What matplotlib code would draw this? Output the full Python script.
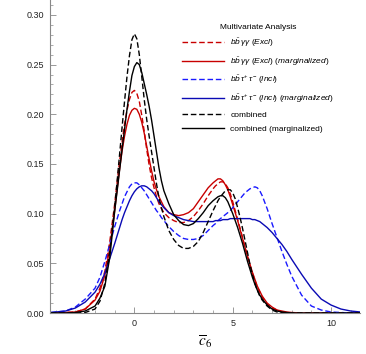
import matplotlib
matplotlib.use('Agg')
import matplotlib.pyplot as plt
from matplotlib.ticker import MultipleLocator

plt.rcParams['font.family'] = ['Liberation Sans', 'DejaVu Sans']
plt.rcParams['mathtext.fontset'] = 'custom'
plt.rcParams['mathtext.rm'] = 'Liberation Sans'
plt.rcParams['mathtext.it'] = 'Liberation Sans:italic'

# values (finer steps near the peaks)
x = [-4.25, -3.5, -3.0, -2.5, -2.0, -1.75, -1.5, -1.25,
     -1.0, -0.875, -0.75, -0.625, -0.5, -0.375, -0.25, -0.125, 0.0, 0.125, 0.25,
     0.375, 0.5, 0.625, 0.75, 0.875, 1.0, 1.125, 1.25, 1.375, 1.5,
     1.75, 2.0, 2.25, 2.5, 2.75, 3.0, 3.25, 3.5, 3.75,
     4.0, 4.125, 4.25, 4.375, 4.5, 4.625, 4.75, 4.875, 5.0, 5.125, 5.25,
     5.375, 5.5, 5.625, 5.75, 5.875, 6.0, 6.125, 6.25, 6.375, 6.5,
     6.75, 7.0, 7.25, 7.5, 7.75, 8.0, 8.5, 9.0, 9.5, 10.0, 10.5, 11.0, 11.5]

bbaa = [0, 0.0005, 0.001, 0.004, 0.014, 0.025, 0.042, 0.072,
        0.110, 0.132, 0.153, 0.172, 0.190, 0.204, 0.215, 0.222, 0.224, 0.221, 0.213,
        0.199, 0.183, 0.165, 0.149, 0.136, 0.126, 0.117, 0.110, 0.105, 0.101,
        0.096, 0.093, 0.091, 0.091, 0.093, 0.097, 0.103, 0.110, 0.118,
        0.125, 0.128, 0.130, 0.132, 0.132, 0.130, 0.126, 0.120, 0.112, 0.103, 0.094,
        0.085, 0.076, 0.066, 0.057, 0.048, 0.040, 0.033, 0.026, 0.021, 0.016,
        0.009, 0.005, 0.003, 0.001, 0.0005, 0, 0, 0, 0, 0, 0, 0, 0]
bbaa_marg = [0, 0.0005, 0.001, 0.004, 0.013, 0.022, 0.038, 0.065,
             0.103, 0.125, 0.145, 0.163, 0.178, 0.190, 0.199, 0.204, 0.206, 0.205, 0.200,
             0.192, 0.181, 0.168, 0.155, 0.143, 0.132, 0.124, 0.117, 0.112, 0.107,
             0.101, 0.099, 0.098, 0.099, 0.101, 0.105, 0.112, 0.119, 0.126,
             0.131, 0.133, 0.135, 0.135, 0.133, 0.129, 0.124, 0.117, 0.109, 0.101, 0.093,
             0.084, 0.075, 0.066, 0.057, 0.049, 0.041, 0.034, 0.027, 0.022, 0.017,
             0.010, 0.006, 0.003, 0.002, 0.001, 0.0005, 0, 0, 0, 0, 0, 0, 0]
bbtt = [0.0005, 0.002, 0.006, 0.014, 0.025, 0.036, 0.052, 0.069,
        0.087, 0.095, 0.103, 0.110, 0.117, 0.122, 0.127, 0.130, 0.131, 0.131, 0.129,
        0.126, 0.123, 0.119, 0.115, 0.111, 0.107, 0.103, 0.100, 0.096, 0.093,
        0.087, 0.082, 0.078, 0.075, 0.074, 0.074, 0.075, 0.078, 0.083,
        0.088, 0.090, 0.093, 0.095, 0.097, 0.099, 0.101, 0.103, 0.106, 0.109, 0.112,
        0.115, 0.118, 0.121, 0.123, 0.125, 0.126, 0.127, 0.126, 0.123, 0.118,
        0.105, 0.090, 0.076, 0.062, 0.049, 0.037, 0.018, 0.007, 0.003, 0.001, 0.0005, 0, 0]
bbtt_marg = [0.0005, 0.002, 0.005, 0.011, 0.021, 0.029, 0.040, 0.055,
             0.070, 0.078, 0.086, 0.094, 0.101, 0.107, 0.113, 0.118, 0.122, 0.125, 0.127,
             0.128, 0.128, 0.127, 0.125, 0.123, 0.120, 0.116, 0.112, 0.109, 0.106,
             0.101, 0.098, 0.096, 0.094, 0.093, 0.092, 0.092, 0.092, 0.092,
             0.092, 0.093, 0.093, 0.093, 0.094, 0.094, 0.094, 0.095, 0.095, 0.095, 0.095,
             0.095, 0.095, 0.095, 0.095, 0.095, 0.094, 0.094, 0.093, 0.092, 0.090,
             0.086, 0.081, 0.075, 0.069, 0.062, 0.054, 0.039, 0.025, 0.014, 0.008, 0.004, 0.002, 0.001]
comb = [0, 0, 0, 0.0005, 0.004, 0.012, 0.030, 0.062,
        0.107, 0.133, 0.160, 0.187, 0.213, 0.238, 0.259, 0.275, 0.281, 0.276, 0.260,
        0.238, 0.215, 0.195, 0.178, 0.162, 0.146, 0.130, 0.116, 0.106, 0.097,
        0.083, 0.074, 0.068, 0.065, 0.065, 0.067, 0.072, 0.081, 0.092,
        0.103, 0.108, 0.113, 0.117, 0.120, 0.123, 0.124, 0.124, 0.121, 0.115, 0.106,
        0.096, 0.085, 0.073, 0.061, 0.049, 0.039, 0.030, 0.023, 0.017, 0.013,
        0.007, 0.003, 0.001, 0.0005, 0, 0, 0, 0, 0, 0, 0, 0, 0]
comb_marg = [0, 0, 0.0005, 0.002, 0.007, 0.015, 0.027, 0.056,
             0.103, 0.123, 0.144, 0.165, 0.185, 0.205, 0.223, 0.239, 0.248, 0.252, 0.250,
             0.242, 0.231, 0.220, 0.208, 0.194, 0.178, 0.162, 0.146, 0.133, 0.123,
             0.110, 0.099, 0.093, 0.089, 0.088, 0.090, 0.095, 0.101, 0.108,
             0.113, 0.115, 0.117, 0.118, 0.118, 0.116, 0.112, 0.106, 0.100, 0.093, 0.086,
             0.078, 0.070, 0.061, 0.052, 0.044, 0.036, 0.029, 0.023, 0.018, 0.014,
             0.008, 0.004, 0.002, 0.001, 0.0005, 0, 0, 0, 0, 0, 0, 0, 0]

red = '#c80000'
blue = '#1a1aff'
dblue = '#0a0ab4'

fig = plt.figure(figsize=(3.66, 3.54), dpi=100)
ax = fig.add_axes([0.1366, 0.1158, 0.847, 0.8842])

lw = 1.0
dash = (0, (4, 2))
ax.plot(x, bbaa, color=red, ls=dash, lw=lw, label=r'$b\bar{b}\,\gamma\gamma$ $(Excl)$')
ax.plot(x, bbaa_marg, color=red, lw=lw, label=r'$b\bar{b}\,\gamma\gamma$ $(Excl)$ $(marginalized)$')
ax.plot(x, bbtt, color=blue, ls=dash, lw=lw, label=r'$b\bar{b}\,\tau^{+}\,\tau^{-}$ $(Incl)$')
ax.plot(x, bbtt_marg, color=dblue, lw=lw, label=r'$b\bar{b}\,\tau^{+}\,\tau^{-}$ $(Incl)$ $(marginalized)$')
ax.plot(x, comb, color='black', ls=dash, lw=lw, label='combined')
ax.plot(x, comb_marg, color='black', lw=lw, label='combined (marginalized)')

ax.set_xlim(-4.29, 11.47)
ax.set_ylim(0, 0.315)

for s in ['top', 'right']:
    ax.spines[s].set_visible(False)
for s in ['left', 'bottom']:
    ax.spines[s].set_color('#888888')
    ax.spines[s].set_linewidth(0.8)

ax.xaxis.set_major_locator(MultipleLocator(5))
ax.xaxis.set_minor_locator(MultipleLocator(1))
ax.yaxis.set_major_locator(MultipleLocator(0.05))
ax.yaxis.set_minor_locator(MultipleLocator(0.01))
ax.yaxis.set_major_formatter(plt.FormatStrFormatter('%.2f'))
ax.tick_params(which='both', direction='in', color='#888888', labelsize=6.5, labelcolor='#222222')
ax.tick_params(which='major', length=4, width=0.6, pad=4)
ax.tick_params(which='minor', length=2, width=0.5)

ax.set_xlabel(r'$\overline{c}_6$', fontsize=11, math_fontfamily='stix', labelpad=4)

leg = ax.legend(loc='upper left', bbox_to_anchor=(0.412, 0.937), frameon=False,
                title='Multivariate Analysis', title_fontsize=6, fontsize=6,
                handlelength=5.1, handletextpad=0.7, labelspacing=0.72, borderpad=0)
leg._legend_box.align = 'center'

fig.savefig('out.png', dpi=100)
